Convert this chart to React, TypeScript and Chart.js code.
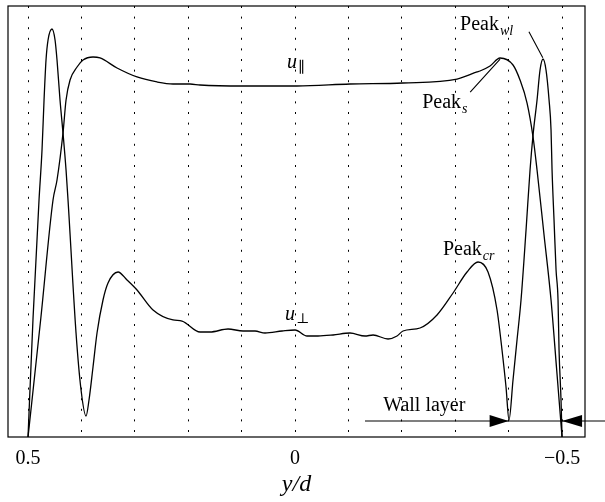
import React, { useEffect, useRef } from 'react';
import { Chart, registerables } from 'chart.js';

Chart.register(...registerables);

// ---- data (y/d positions, reversed axis: 0.5 on the left, -0.5 on the right) ----
const xTicks = [0.5, 0.4, 0.3, 0.2, 0.1, 0, -0.1, -0.2, -0.3, -0.4, -0.5];
const labeledTicks = [0.5, 0, -0.5];
const labeledTickText = ['0.5', '0', '\u22120.5'];

// u_parallel profile
const parX = [
  0.5, 0.476, 0.4532, 0.4457, 0.4345, 0.4288, 0.4213, 0.4082, 0.397, 0.3783,
  0.3652, 0.3333, 0.2959, 0.2584, 0.2285, 0.1966, 0.1779, 0.0974, -0.0037, -0.103,
  -0.2022, -0.3034, -0.3408, -0.3464, -0.3652, -0.3839, -0.4082, -0.4213, -0.4345, -0.4457,
  -0.4532, -0.4663, -0.4794, -0.4897, -0.5,
];
const parU = [
  0, 0.276, 0.5499, 0.5963, 0.7053, 0.7819, 0.8283, 0.8585, 0.8747, 0.8817,
  0.8794, 0.8561, 0.8353, 0.8237, 0.819, 0.819, 0.8167, 0.8144, 0.8144, 0.819,
  0.8213, 0.8306, 0.8469, 0.8492, 0.8608, 0.8794, 0.8631, 0.8283, 0.7749, 0.6961,
  0.6195, 0.4687, 0.3179, 0.1601, 0,
];

// u_perpendicular profile
const perpX = [
  0.5, 0.4906, 0.4794, 0.4738, 0.47, 0.4663, 0.4625, 0.4551, 0.4494, 0.4457,
  0.4401, 0.4345, 0.4288, 0.4251, 0.4101, 0.4007, 0.3914, 0.3858, 0.3783, 0.3708,
  0.3596, 0.3502, 0.3315, 0.3146, 0.2959, 0.2659, 0.2285, 0.2116, 0.1779, 0.1592,
  0.1255, 0.0974, 0.0749, 0.0562, 0.0243, 0, -0.0225, -0.0431, -0.0712, -0.103,
  -0.1311, -0.1461, -0.1742, -0.191, -0.2022, -0.2341, -0.2659, -0.2959, -0.3221, -0.3427,
  -0.3614, -0.3783, -0.3876, -0.3951, -0.4007, -0.4082, -0.4157, -0.4232, -0.4326, -0.4401,
  -0.4457, -0.4532, -0.4588, -0.4644, -0.47, -0.4757, -0.4794, -0.4813, -0.485, -0.4888,
  -0.4925, -0.4944, -0.4981, -0.5,
];
const perpU = [
  0, 0.2761, 0.5499, 0.6659, 0.7819, 0.8747, 0.9211, 0.9466, 0.9211, 0.8747,
  0.7819, 0.7053, 0.6195, 0.5499, 0.2413, 0.109, 0.0487, 0.0858, 0.1624, 0.2413,
  0.3179, 0.3573, 0.3828, 0.3643, 0.3411, 0.2947, 0.2715, 0.2691, 0.2436, 0.2436,
  0.2506, 0.2459, 0.2459, 0.2413, 0.2459, 0.2483, 0.2343, 0.2343, 0.2367, 0.2413,
  0.2343, 0.2367, 0.2274, 0.2343, 0.2459, 0.2529, 0.2831, 0.3341, 0.3828, 0.406,
  0.3828, 0.2947, 0.2019, 0.116, 0.0394, 0.1323, 0.2251, 0.3179, 0.4803, 0.6195,
  0.7007, 0.7819, 0.8515, 0.877, 0.8515, 0.7819, 0.7123, 0.6195, 0.5035, 0.3875,
  0.3179, 0.2019, 0.0858, 0,
];

// annotation anchors (data coordinates)
const peakWlText = { x: -0.309, y: 0.944 };
const peakWlLeader = [-0.438, 0.94, -0.464, 0.88];
const peakSText = { x: -0.238, y: 0.763 };
const peakSLeader = [-0.328, 0.8, -0.384, 0.877];
const peakCrText = { x: -0.277, y: 0.422 };
const uParText = { x: 0.015, y: 0.856 };
const uPerpText = { x: 0.0187, y: 0.2715 };
const wallText = { x: -0.165, y: 0.06 };
const wallLine = { x1: -0.131, x2: -0.6, y: 0.037, tipA: -0.4, tipB: -0.5 };

const SERIF = '"Liberation Serif", "DejaVu Serif", serif';

function drawSub(ctx: CanvasRenderingContext2D, base: string, sub: string, px: number, py: number,
  baseFont: string, subFont: string, dy: number) {
  ctx.font = baseFont;
  ctx.fillText(base, px, py);
  const w = ctx.measureText(base).width;
  ctx.font = subFont;
  ctx.fillText(sub, px + w + 1, py + dy);
}

const annotationPlugin = {
  id: 'annotations',
  afterDraw(chart: any) {
    const { ctx, chartArea: a, scales } = chart;
    const xs = scales.x;
    const ys = scales.y;
    const X = (v: number) => xs.getPixelForValue(v);
    const Y = (v: number) => ys.getPixelForValue(v);
    ctx.save();
    // frame
    ctx.strokeStyle = '#000';
    ctx.lineWidth = 1.2;
    ctx.strokeRect(a.left, a.top, a.right - a.left, a.bottom - a.top);

    ctx.fillStyle = '#000';
    ctx.textBaseline = 'alphabetic';
    ctx.textAlign = 'left';

    // u parallel
    drawSub(ctx, 'u', '\u2225', X(uParText.x), Y(uParText.y), `italic 20px ${SERIF}`, `15px ${SERIF}`, 4);
    // u perp
    drawSub(ctx, 'u', '\u22A5', X(uPerpText.x), Y(uPerpText.y), `italic 20px ${SERIF}`, `14px ${SERIF}`, 3);

    // Peak labels
    drawSub(ctx, 'Peak', 'wl', X(peakWlText.x), Y(peakWlText.y), `20px ${SERIF}`, `italic 14px ${SERIF}`, 5);
    drawSub(ctx, 'Peak', 's', X(peakSText.x), Y(peakSText.y), `20px ${SERIF}`, `italic 14px ${SERIF}`, 5);
    drawSub(ctx, 'Peak', 'cr', X(peakCrText.x), Y(peakCrText.y), `20px ${SERIF}`, `italic 14px ${SERIF}`, 5);

    // leaders
    ctx.lineWidth = 1.1;
    ctx.beginPath();
    ctx.moveTo(X(peakWlLeader[0]), Y(peakWlLeader[1]));
    ctx.lineTo(X(peakWlLeader[2]), Y(peakWlLeader[3]));
    ctx.moveTo(X(peakSLeader[0]), Y(peakSLeader[1]));
    ctx.lineTo(X(peakSLeader[2]), Y(peakSLeader[3]));
    ctx.stroke();

    // Wall layer
    ctx.font = `20px ${SERIF}`;
    ctx.fillText('Wall layer', X(wallText.x), Y(wallText.y));
    const ly = Y(wallLine.y);
    ctx.beginPath();
    ctx.moveTo(X(wallLine.x1), ly);
    ctx.lineTo(X(wallLine.x2), ly);
    ctx.stroke();
    const ta = X(wallLine.tipA);
    const tb = X(wallLine.tipB);
    ctx.beginPath();
    ctx.moveTo(ta, ly);
    ctx.lineTo(ta - 19, ly - 6);
    ctx.lineTo(ta - 19, ly + 6);
    ctx.closePath();
    ctx.fill();
    ctx.beginPath();
    ctx.moveTo(tb, ly);
    ctx.lineTo(tb + 20, ly - 6);
    ctx.lineTo(tb + 20, ly + 6);
    ctx.closePath();
    ctx.fill();
    ctx.restore();
  },
};

export default function App() {
  const ref = useRef<HTMLCanvasElement>(null);
  useEffect(() => {
    if (!ref.current) return;
    const chart = new Chart(ref.current, {
      type: 'line',
      data: {
        datasets: [
          {
            label: 'u\u2225',
            data: parX.map((x, i) => ({ x, y: parU[i] })),
            borderColor: '#000',
            borderWidth: 1.3,
            pointRadius: 0,
            cubicInterpolationMode: 'monotone',
            fill: false,
          },
          {
            label: 'u\u22A5',
            data: perpX.map((x, i) => ({ x, y: perpU[i] })),
            borderColor: '#000',
            borderWidth: 1.3,
            pointRadius: 0,
            cubicInterpolationMode: 'monotone',
            fill: false,
          },
        ],
      },
      options: {
        animation: false,
        responsive: false,
        maintainAspectRatio: false,
        layout: { padding: { left: 8, right: 20, top: 6, bottom: 0 } },
        plugins: { legend: { display: false }, tooltip: { enabled: false } },
        scales: {
          x: {
            type: 'linear',
            reverse: true,
            min: -0.543,
            max: 0.5375,
            afterBuildTicks: (s: any) => {
              s.ticks = xTicks.slice().reverse().map((v) => ({ value: v }));
            },
            afterFit: (s: any) => {
              s.height = 65;
            },
            grid: { color: '#000', lineWidth: 1, drawTicks: false, drawOnChartArea: true },
            border: { display: false, dash: [2, 8.6] },
            ticks: {
              autoSkip: false,
              maxRotation: 0,
              padding: 10,
              color: '#000',
              font: { family: SERIF, size: 20 },
              callback: (value: any) => {
                const v = Math.round(Number(value) * 10) / 10;
                const idx = labeledTicks.findIndex((t) => Math.abs(t - v) < 1e-6);
                return idx >= 0 ? labeledTickText[idx] : '';
              },
            },
            title: {
              display: true,
              text: 'y/d',
              color: '#000',
              font: { family: SERIF, size: 24, style: 'italic' },
              padding: { top: 0, bottom: 3 },
            },
          },
          y: { type: 'linear', min: 0, max: 1, display: false },
        },
      },
      plugins: [annotationPlugin],
    } as any);
    return () => chart.destroy();
  }, []);
  return (
    <div style={{ position: 'absolute', left: 0, top: 0, width: 605, height: 502, background: '#fff' }}>
      <canvas ref={ref} width={605} height={502} style={{ display: 'block' }} />
    </div>
  );
}
